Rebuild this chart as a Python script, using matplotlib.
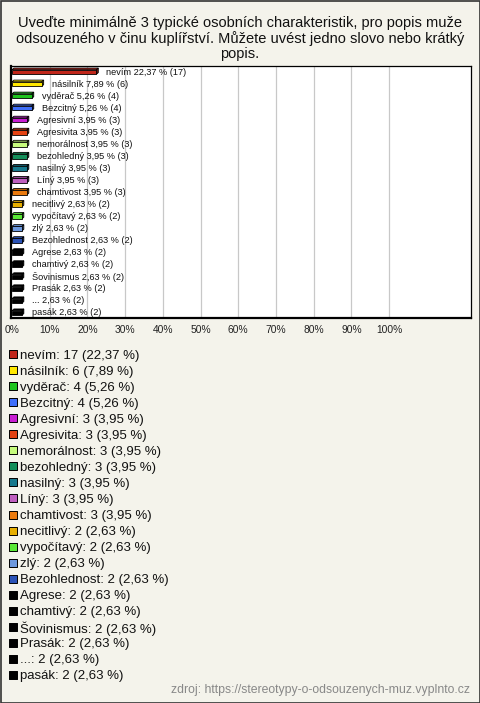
import matplotlib
matplotlib.use("Agg")
import matplotlib.pyplot as plt
from matplotlib.patches import Rectangle

plt.rcParams['font.family'] = ['Liberation Sans', 'DejaVu Sans']

title = ("Uveďte minimálně 3 typické osobních charakteristik, pro popis muže\n"
         "odsouzeného v činu kuplířství. Můžete uvést jedno slovo nebo krátký\n"
         "popis.")

labels = ["nevím", "násilník", "vyděrač", "Bezcitný", "Agresivní", "Agresivita",
          "nemorálnost", "bezohledný", "nasilný", "Líný", "chamtivost", "necitlivý",
          "vypočítavý", "zlý", "Bezohlednost", "Agrese", "chamtivý", "Šovinismus",
          "Prasák", "...", "pasák"]
counts = [17, 6, 4, 4, 3, 3, 3, 3, 3, 3, 3, 2, 2, 2, 2, 2, 2, 2, 2, 2, 2]
pcts = [22.37, 7.89, 5.26, 5.26, 3.95, 3.95, 3.95, 3.95, 3.95, 3.95, 3.95,
        2.63, 2.63, 2.63, 2.63, 2.63, 2.63, 2.63, 2.63, 2.63, 2.63]
colors = ["#c0261a", "#ffe800", "#1ec41e", "#3f6ffa", "#c81ed2", "#e44212",
          "#c6fb7c", "#148f5a", "#17788c", "#bf5fbf", "#ea7a0e", "#e6ae00",
          "#5ae836", "#6c98de", "#2a52b6", "#000000", "#000000", "#000000",
          "#000000", "#000000", "#000000"]

def darker(c, f=0.6):
    r, g, b = matplotlib.colors.to_rgb(c)
    return (r * f, g * f, b * f)

def fmt(v):
    return ("%.2f" % v).replace(".", ",")

W, H = 480, 703
bg = "#f4f3eb"
fig = plt.figure(figsize=(W / 100, H / 100), dpi=100, facecolor=bg)

fig.text(0.5, 1 - 16.5 / H, title, ha="center", va="top", fontsize=10.5,
         linespacing=1.08, color="#111111")

# bar chart
ax = fig.add_axes([11 / W, 1 - 318 / H, 460 / W, 252 / H])
ax.set_facecolor("white")
ax.set_xlim(-0.27, 121.7)
ax.set_ylim(20.5, -0.42)
for x in range(10, 101, 10):
    ax.axvline(x, color="#c8c8c8", lw=0.9, zorder=0)
ax.set_xticks(range(0, 101, 10))
ax.set_xticklabels(["%d%%" % x for x in range(0, 101, 10)], fontsize=7.4, color="#222222")
ax.tick_params(axis="x", length=0, pad=5)
ax.set_yticks([])
for s in ax.spines.values():
    s.set_color("black")
    s.set_linewidth(0.9)
ax.spines["left"].set_linewidth(1.6)
ax.spines["bottom"].set_linewidth(1.6)

h = 0.38
dx, dy = 0.5, 0.14
for i, (lab, c, p, n) in enumerate(zip(labels, colors, pcts, counts)):
    y0, y1 = i - h / 2 + 0.08, i + h / 2 + 0.08
    ax.fill([0, dx, p + dx, p], [y0, y0 - dy, y0 - dy, y0], color=c, ec="black", lw=0.6, zorder=3)
    ax.fill([p, p + dx, p + dx, p], [y0, y0 - dy, y1 - dy, y1], color=darker(c), ec="black", lw=0.6, zorder=3)
    ax.fill([0, p, p, 0], [y0, y0, y1, y1], color=c, ec="black", lw=0.6, zorder=4)
    ax.text(p + 2.65, i, "%s %s %% (%d)" % (lab, fmt(p), n), fontsize=6.6,
            va="center_baseline", ha="left", color="#111111", zorder=5)

# legend list
lg = fig.add_axes([0, 1 - 683 / H, 1, (683 - 346) / H])
lg.set_xlim(0, W)
lg.set_ylim(len(labels) - 0.5, -0.5)
lg.axis("off")
for i, (lab, c, p, n) in enumerate(zip(labels, colors, pcts, counts)):
    lg.scatter([13], [i], marker="s", s=30, color=c, edgecolors="black", linewidths=0.7)
    lg.text(19.5, i, "%s: %d (%s %%)" % (lab, n, fmt(p)), fontsize=9.5,
            va="center_baseline", ha="left", color="#111111")

fig.text(1 - 10 / W, 1 - 690 / H, "zdroj: https://stereotypy-o-odsouzenych-muz.vyplnto.cz",
         ha="right", va="center", fontsize=8.8, color="#888888")

fig.patches.append(Rectangle((0.5 / W, 0.5 / H), 1 - 1 / W, 1 - 1 / H, transform=fig.transFigure,
                             fill=False, ec="#333333", lw=1.2))

fig.savefig("out.png", dpi=100, facecolor=bg)
